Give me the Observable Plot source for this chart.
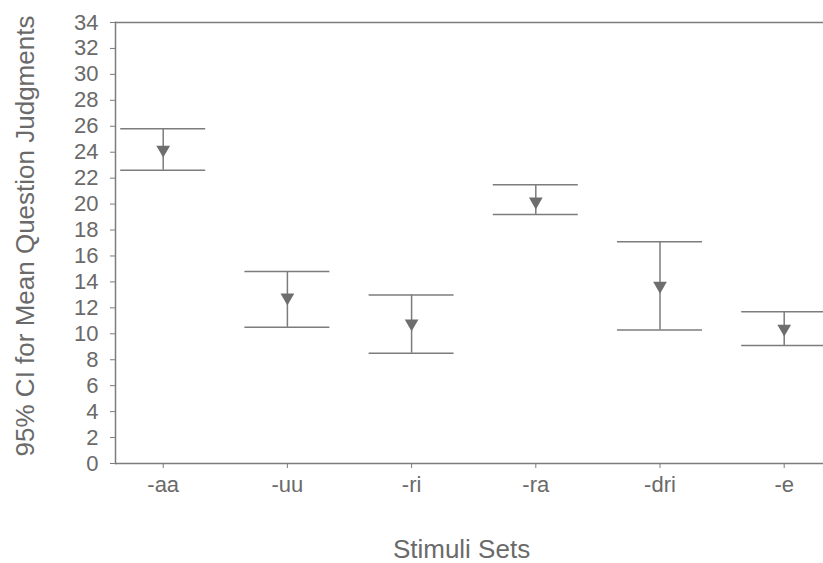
<!DOCTYPE html>
<html><head><meta charset="utf-8">
<script src="https://cdn.jsdelivr.net/npm/d3@7"></script>
<script src="https://cdn.jsdelivr.net/npm/@observablehq/plot@0.6"></script>
<style>body{margin:0;background:#fff} svg{display:block}</style>
</head><body><div id="chart"></div>
<script>
const categories = ["-aa", "-uu", "-ri", "-ra", "-dri", "-e"];
const means = [24.2, 12.8, 10.8, 20.2, 13.7, 10.4];
const lower = [22.6, 10.5, 8.5, 19.2, 10.3, 9.1];
const upper = [25.8, 14.8, 13.0, 21.5, 17.1, 11.7];
const yTicks = [0, 2, 4, 6, 8, 10, 12, 14, 16, 18, 20, 22, 24, 26, 28, 30, 32, 34];
const xLabel = "Stimuli Sets";
const yLabel = "95% CI for Mean Question Judgments";

const rows = categories.map((c, i) => ({c, mean: means[i], lo: lower[i], hi: upper[i]}));
const gray = "#7c7c7c";

const chart = Plot.plot({
  width: 823, height: 563,
  marginLeft: 115, marginRight: 0, marginTop: 22, marginBottom: 100,
  style: {fontFamily: "'Liberation Sans', Arial, sans-serif", color: "#6a6a6a", background: "#fff"},
  x: {type: "band", domain: categories, range: [100.6, 845.8], paddingInner: 0.3156, paddingOuter: 0.1578, align: 0.5, round: false, axis: null},
  y: {domain: [0, 34], axis: null},
  marks: [
    Plot.ruleY([34], {stroke: gray, strokeWidth: 1.5}),
    Plot.ruleY([0], {stroke: gray, strokeWidth: 1.5}),
    Plot.frame({anchor: "left", stroke: gray, strokeWidth: 1.5}),
    Plot.axisY({ticks: yTicks, tickSize: 5, tickPadding: 12, fontSize: 22, stroke: gray, label: null}),
    Plot.axisX({tickSize: 5, tickPadding: 8, fontSize: 22, stroke: gray, label: null}),
    Plot.ruleX(rows, {x: "c", y1: "lo", y2: "hi", stroke: gray, strokeWidth: 1.5}),
    Plot.tickY(rows, {x: "c", y: "lo", stroke: gray, strokeWidth: 1.5}),
    Plot.tickY(rows, {x: "c", y: "hi", stroke: gray, strokeWidth: 1.5}),
    Plot.dot(rows, {x: "c", y: "mean", symbol: "triangle", rotate: 180, r: 5.1, fill: "#6e6e6e", stroke: "none"}),
    Plot.text([xLabel], {frameAnchor: "bottom", lineAnchor: "middle", dy: 86, dx: -8, fontSize: 26}),
    Plot.text([yLabel], {frameAnchor: "left", textAnchor: "middle", rotate: -90, dx: -90, dy: -7, fontSize: 26})
  ]
});
document.getElementById("chart").appendChild(chart);
</script>
</body></html>
